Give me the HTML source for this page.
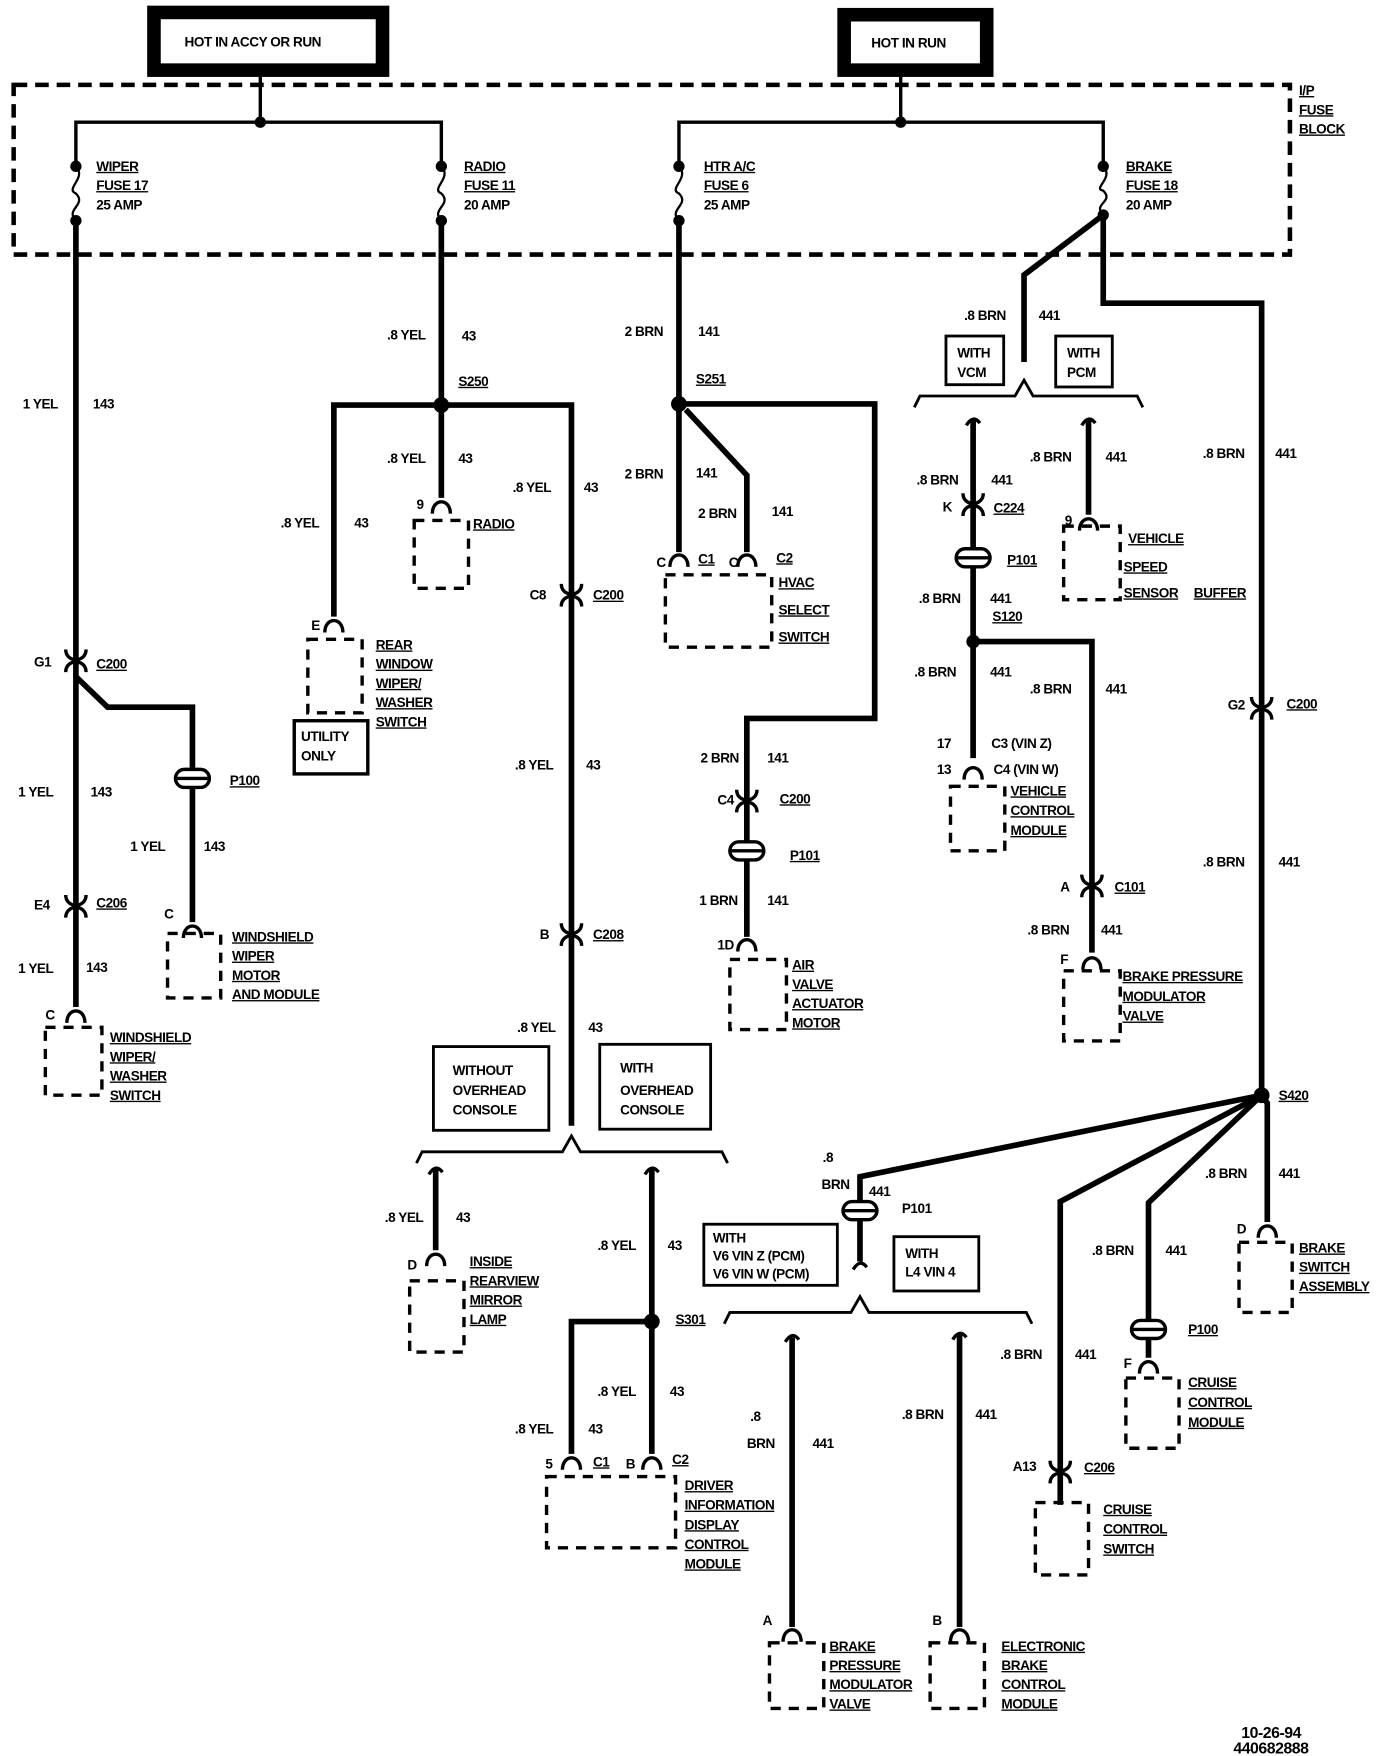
<!DOCTYPE html>
<html><head><meta charset="utf-8"><style>
html,body{margin:0;padding:0;background:#fff}
svg{display:block}
text{font-family:"Liberation Sans Narrow","Liberation Sans",sans-serif;font-weight:bold;font-size:12px;letter-spacing:-0.4px;fill:#000}
</style></head><body>
<svg id="s" width="1376" height="1756" viewBox="0 0 1216 1552" xmlns="http://www.w3.org/2000/svg"></svg>
<script>
const s=document.getElementById('s');let h='';
function L(p,w){h+=`<polyline points="${p.join(' ')}" fill="none" stroke="#000" stroke-width="${w||5}" stroke-linejoin="miter"/>`}
function T(x,y,t,u,sz){h+=`<text x="${x}" y="${y+4}" ${sz?`style="font-size:${sz}px"`:''} ${u?'text-decoration="underline"':''}>${t}</text>`}
function TL(x,y,arr,dy){arr.forEach((t,i)=>T(x,y+i*dy,t,true))}
function D(x,y,r){h+=`<circle cx="${x}" cy="${y}" r="${r||6}"/>`}
function F(x,y){h+=`<path d="M${x-8},${y+9} C${x-8},${y-5} ${x+8},${y-5} ${x+8},${y+9}" fill="none" stroke="#000" stroke-width="3"/>`}
function I(x,y){h+=`<path d="M${x-9},${y-9} C${x-9},${y+3} ${x+9},${y+3} ${x+9},${y-9} M${x-9},${y+11} C${x-9},${y-1} ${x+9},${y-1} ${x+9},${y+11}" fill="none" stroke="#000" stroke-width="3"/>`}
function G(x,y){h+=`<rect x="${x-15}" y="${y-8}" width="30" height="16" rx="8" fill="#fff" stroke="#000" stroke-width="3"/><line x1="${x-15}" y1="${y}" x2="${x+15}" y2="${y}" stroke="#000" stroke-width="3"/>`}
function B(x1,y1,x2,y2){h+=`<rect x="${x1}" y="${y1}" width="${x2-x1}" height="${y2-y1}" fill="none" stroke="#000" stroke-width="3" stroke-dasharray="9,7"/>`}
function R(x1,y1,x2,y2,w){h+=`<rect x="${x1}" y="${y1}" width="${x2-x1}" height="${y2-y1}" fill="#fff" stroke="#000" stroke-width="${w||3}"/>`}
function FU(x,y1,y2){D(x,y1,5);D(x,y2,5);h+=`<path d="M${x},${y1} C${x+10},${y1+10} ${x-10},${y1+20} ${x},${(y1+y2)/2} C${x+10},${(y1+y2)/2+10} ${x-10},${y2-10} ${x},${y2}" fill="none" stroke="#000" stroke-width="2"/>`}
function BR(x1,x2,y,px){h+=`<path d="M${x1},${y+10} L${x1+5},${y} L${px-8},${y} L${px},${y-14} L${px+8},${y} L${x2-5},${y} L${x2},${y+10}" fill="none" stroke="#000" stroke-width="2.5"/>`}
function HK(x,y){h+=`<path d="M${x-6},${y+4} Q${x},${y-6} ${x+6},${y+2}" fill="none" stroke="#000" stroke-width="3"/>`}

R(136,11,338,62,12);T(163,37,'HOT IN ACCY OR RUN');
R(746,13,872,62,12);T(770,38,'HOT IN RUN');
h+=`<rect x="12" y="75" width="1128" height="150" fill="none" stroke="#000" stroke-width="4" stroke-dasharray="12,7"/>`;
TL(1148,80,['I/P','FUSE','BLOCK'],17);
L([230,68,230,108],3);L([67,145,67,108,390,108,390,145],3);D(230,108,5);
L([796,68,796,108],3);L([600,145,600,108,975,108,975,145],3);D(796,108,5);
FU(67,147,195);FU(390,147,195);FU(600,147,195);FU(975,147,190);
[[85,'WIPER','FUSE 17'],[410,'RADIO','FUSE 11'],[622,'HTR A/C','FUSE 6'],[995,'BRAKE','FUSE 18']].forEach(a=>{T(a[0],147,a[1],1);T(a[0],164,a[2],1)});
T(85,181,'25 AMP');T(410,181,'20 AMP');T(622,181,'25 AMP');T(995,181,'20  AMP');

L([67,195,67,890]);I(67,583);I(67,800);F(67,895);B(40,908,90,968);
L([67,598,95,625,170,625,170,815]);G(170,688);F(170,820);B(148,825,195,882);
T(20,357,'1 YEL');T(82,357,'143');T(30,585,'G1');T(85,587,'C200',1);T(16,700,'1 YEL');T(80,700,'143');
T(203,690,'P100',1);T(115,748,'1 YEL');T(180,748,'143');T(30,800,'E4');T(85,798,'C206',1);
T(16,856,'1 YEL');T(76,855,'143');T(40,897,'C');T(145,808,'C');
TL(97,917,['WINDSHIELD','WIPER/','WASHER','SWITCH'],17);
TL(205,828,['WINDSHIELD','WIPER','MOTOR','AND MODULE'],17);

L([390,195,390,440]);D(390,358,7);L([295,545,295,358,505,358,505,995]);F(390,445);B(366,460,414,520);
F(295,550);B(272,565,320,630);R(260,637,325,684,3);T(266,651,'UTILITY');T(266,668,'ONLY');
T(342,296,'.8 YEL');T(408,297,'43');T(405,337,'S250',1);T(342,405,'.8 YEL');T(405,405,'43');
T(248,462,'.8 YEL');T(313,462,'43');T(453,431,'.8 YEL');T(516,431,'43');T(368,446,'9');T(418,463,'RADIO',1);
T(275,553,'E');TL(332,570,['REAR','WINDOW','WIPER/','WASHER','SWITCH'],17);
I(505,525);T(468,526,'C8');T(524,526,'C200',1);T(455,676,'.8 YEL');T(518,676,'43');
I(505,825);T(477,826,'B');T(524,826,'C208',1);T(457,908,'.8 YEL');T(520,908,'43');
R(383,925,485,999,2.5);T(400,946,'WITHOUT');T(400,964,'OVERHEAD');T(400,981,'CONSOLE');
R(530,923,628,998,2.5);T(548,944,'WITH');T(548,964,'OVERHEAD');T(548,981,'CONSOLE');
BR(368,643,1018,505);
L([385,1034,385,1105],5);HK(385,1034);F(385,1110);B(362,1132,410,1195);T(340,1076,'.8 YEL');T(403,1076,'43');T(360,1118,'D');
TL(415,1115,['INSIDE','REARVIEW','MIRROR','LAMP'],17);
L([576,1034,576,1285]);HK(576,1034);D(576,1168,7);L([576,1168,505,1168,505,1285]);F(505,1290);F(576,1290);B(483,1305,597,1368);
T(528,1101,'.8 YEL');T(590,1101,'43');T(597,1166,'S301',1);T(528,1230,'.8 YEL');T(592,1230,'43');
T(455,1263,'.8 YEL');T(520,1263,'43');T(482,1294,'5');T(524,1292,'C1',1);T(553,1294,'B');T(594,1290,'C2',1);
TL(605,1313,['DRIVER','INFORMATION','DISPLAY','CONTROL','MODULE'],17.3);

L([600,195,600,488]);D(600,357,7);L([600,357,773,357,773,635,660,635,660,828]);
L([606,362,660,420,660,488]);F(600,492);F(660,492);B(588,508,682,572);
T(552,293,'2 BRN');T(617,293,'141');T(615,335,'S251',1);T(552,419,'2 BRN');T(615,418,'141');
T(617,454,'2 BRN');T(682,452,'141');T(580,497,'C');T(617,494,'C1',1);T(644,497,'C');T(686,493,'C2',1);
TL(688,515,['HVAC','SELECT','SWITCH'],24);
I(660,707);G(660,752);F(660,832);B(645,848,695,910);
T(619,670,'2 BRN');T(678,670,'141');T(634,707,'C4');T(689,706,'C200',1);T(698,756,'P101',1);
T(618,796,'1 BRN');T(678,796,'141');T(634,835,'1D');TL(700,853,['AIR','VALVE','ACTUATOR','MOTOR'],17);

L([975,190,905,243,905,320]);L([975,190,975,268,1115,268,1115,968]);
T(852,279,'.8 BRN');T(918,279,'441');
R(836,297,887,340,2.5);T(846,312,'WITH');T(846,329,'VCM');R(933,297,983,342,2.5);T(943,312,'WITH');T(943,329,'PCM');
BR(808,1010,350,905);
L([860,372,860,670]);HK(860,372);I(860,445);G(860,493);D(860,567,6);F(860,680);B(840,695,888,752);
L([860,567,965,567,965,842]);I(965,782);F(965,848);B(940,858,990,920);
L([962,372,962,455]);HK(962,372);F(962,460);B(940,465,990,530);
T(810,424,'.8 BRN');T(876,424,'441');T(833,448,'K');T(878,449,'C224',1);T(890,495,'P101',1);
T(812,529,'.8 BRN');T(875,529,'441');T(877,545,'S120',1);T(808,594,'.8 BRN');T(875,594,'441');
T(910,609,'.8 BRN');T(977,609,'441');T(828,657,'17');T(876,657,'C3 (VIN  Z)');T(828,680,'13');T(878,680,'C4 (VIN  W)');
TL(893,699,['VEHICLE','CONTROL','MODULE'],17.5);T(937,784,'A');T(985,784,'C101',1);T(908,822,'.8 BRN');T(973,822,'441');T(937,848,'F');
TL(992,863,['BRAKE PRESSURE','MODULATOR','VALVE'],17.5);
T(910,404,'.8 BRN');T(977,404,'441');T(941,460,'9');T(997,476,'VEHICLE',1);T(993,501,'SPEED',1);T(993,524,'SENSOR',1);T(1055,524,'BUFFER',1);
I(1115,625);T(1085,623,'G2');T(1137,622,'C200',1);T(1063,401,'.8 BRN');T(1127,401,'441');T(1063,762,'.8 BRN');T(1130,762,'441');
D(1115,968,7);T(1130,968,'S420',1);
L([1115,968,1120,975,1120,1080]);F(1120,1085);B(1095,1098,1142,1160);T(1065,1037,'.8 BRN');T(1130,1037,'441');T(1093,1086,'D');
TL(1148,1103,['BRAKE','SWITCH','ASSEMBLY'],17);
L([1115,968,1015,1063,1015,1200]);G(1015,1175);F(1015,1205);B(995,1218,1042,1280);T(965,1105,'.8 BRN');T(1030,1105,'441');T(1050,1175,'P100',1);T(993,1205,'F');
TL(1050,1222,['CRUISE','CONTROL','MODULE'],17.5);
L([1115,968,937,1062,937,1330]);I(937,1300);B(915,1328,962,1392);T(884,1197,'.8 BRN');T(950,1197,'441');T(895,1296,'A13');T(958,1297,'C206',1);
TL(975,1334,['CRUISE','CONTROL','SWITCH'],17.5);
L([1115,968,760,1040,760,1115]);G(760,1070);HK(760,1118);
T(727,1023,'.8');T(726,1047,'BRN');T(768,1053,'441');T(797,1068,'P101');
R(622,1082,740,1136,2.5);T(630,1094,'WITH');T(630,1110,'V6  VIN  Z   (PCM)');T(630,1126,'V6  VIN  W  (PCM)');
R(790,1093,865,1141,2.5);T(800,1108,'WITH');T(800,1124,'L4  VIN  4');
BR(640,912,1160,760);
L([700,1182,700,1438]);HK(700,1182);F(700,1442);B(680,1452,728,1510);T(663,1252,'.8');T(660,1276,'BRN');T(718,1276,'441');T(674,1432,'A');
TL(733,1455,['BRAKE','PRESSURE','MODULATOR','VALVE'],17);
L([848,1180,848,1438]);HK(848,1180);F(848,1442);B(822,1452,870,1510);T(797,1250,'.8 BRN');T(862,1250,'441');T(824,1432,'B');
TL(885,1455,['ELECTRONIC','BRAKE','CONTROL','MODULE'],17);
T(1097,1532,'10-26-94',0,14);T(1090,1546,'440682888',0,14);
s.innerHTML=h;
</script>
</body></html>
